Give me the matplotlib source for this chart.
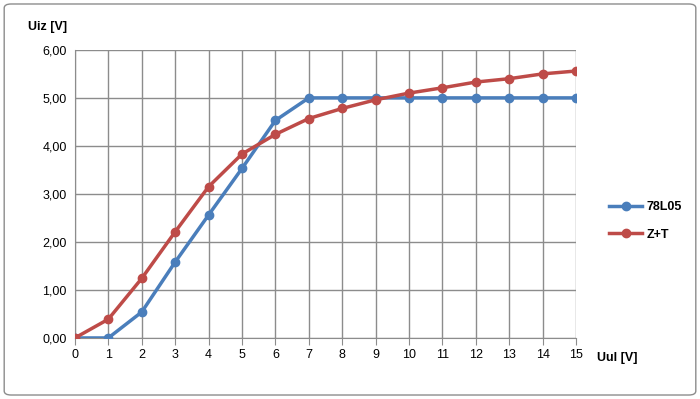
import matplotlib.pyplot as plt
from matplotlib.patches import FancyBboxPatch
from matplotlib.ticker import FuncFormatter

uul = list(range(16))
u_78l05 = [0, 0, 0.54, 1.58, 2.56, 3.53, 4.53, 5.0, 5.0, 5.0, 5.0, 5.0, 5.0, 5.0, 5.0, 5.0]
u_zt = [0, 0.39, 1.24, 2.21, 3.15, 3.83, 4.24, 4.57, 4.78, 4.96, 5.10, 5.21, 5.33, 5.40, 5.50, 5.56]

blue = "#4a7ebb"
red = "#be4b48"

plt.rcParams["font.family"] = ["Liberation Sans", "DejaVu Sans"]

fig = plt.figure(figsize=(7, 3.99), dpi=100)
frame = FancyBboxPatch((0.006, 0.01), 0.988, 0.98, boxstyle="round,pad=0,rounding_size=0.01",
                       transform=fig.transFigure, fill=False, edgecolor="#8c8c8c", linewidth=1)
fig.patches.append(frame)

ax = fig.add_axes([0.107, 0.153, 0.716, 0.722])
ax.plot(uul, u_78l05, color=blue, lw=2.5, marker="o", ms=6, label="78L05", zorder=3)
ax.plot(uul, u_zt, color=red, lw=2.5, marker="o", ms=6, label="Z+T", zorder=3)

ax.set_xlim(0, 15)
ax.set_ylim(0, 6)
ax.set_xticks(uul)
ax.set_yticks([0, 1, 2, 3, 4, 5, 6])
ax.yaxis.set_major_formatter(FuncFormatter(lambda v, p: f"{v:.2f}".replace(".", ",")))
ax.grid(True, color="#8c8c8c", lw=1)
ax.set_axisbelow(True)
for s in ["top", "right"]:
    ax.spines[s].set_visible(False)
for s in ["left", "bottom"]:
    ax.spines[s].set_color("#8c8c8c")
ax.tick_params(axis="x", length=5, color="#8c8c8c", labelsize=9, pad=3)
ax.tick_params(axis="y", length=0, labelsize=9, pad=6)

fig.text(0.04, 0.925, "Uiz [V]", fontsize=9, fontweight="bold")
fig.text(0.853, 0.095, "Uul [V]", fontsize=9, fontweight="bold")

ax.legend(loc="center left", bbox_to_anchor=(1.044, 0.406), frameon=False,
          prop={"weight": "bold", "size": 9}, handlelength=2.6,
          handletextpad=0.4, labelspacing=1.25)

fig.savefig("out.png", dpi=100)
